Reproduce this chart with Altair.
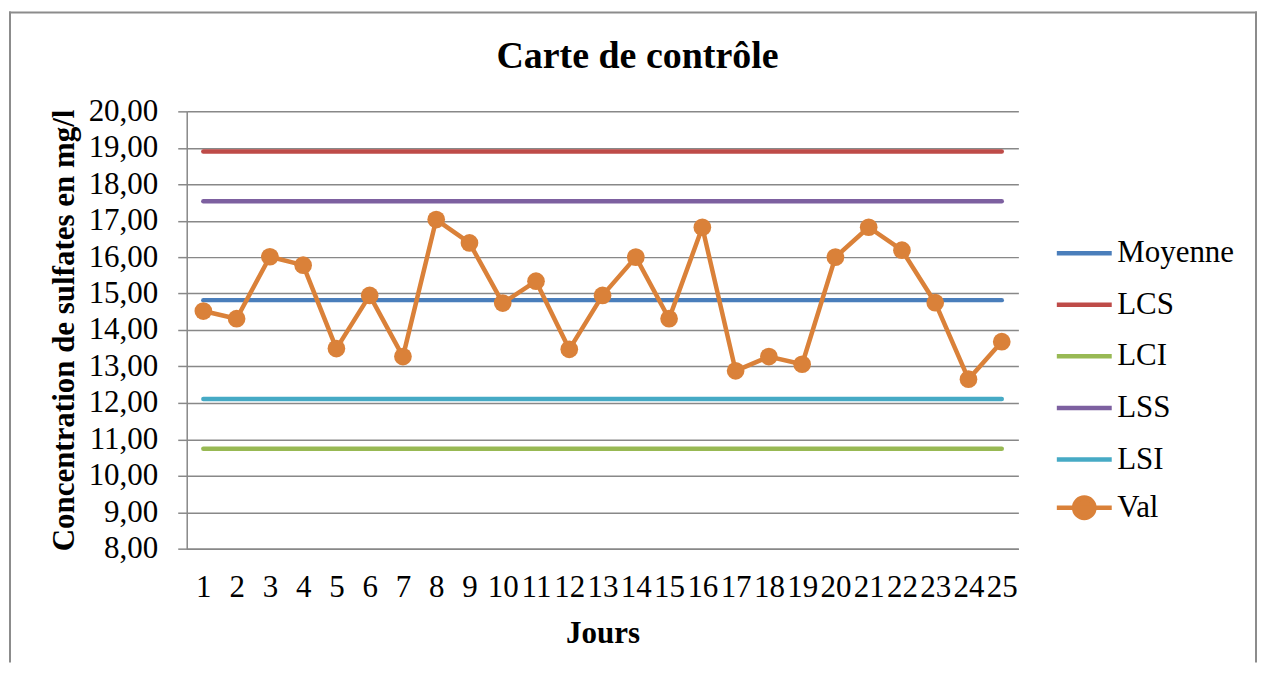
import altair as alt
import pandas as pd

# ---- data ----
chart_title = "Carte de contrôle"
x_title = "Jours"
y_title = "Concentration de sulfates en mg/l"
days = list(range(1, 26))
val = [14.52, 14.31, 16.01, 15.78, 13.49, 14.95, 13.27, 17.03, 16.39, 14.74,
       15.34, 13.47, 14.95, 16.00, 14.31, 16.82, 12.88, 13.27, 13.06, 16.00,
       16.82, 16.19, 14.75, 12.65, 13.68]
control_names = ["Moyenne", "LCS", "LCI", "LSS", "LSI"]
control_levels = [14.82, 18.90, 10.74, 17.53, 12.11]
control_colors = ["#4a7ebb", "#be4b48", "#98b954", "#7d60a0", "#46aac5"]
val_name = "Val"
val_color = "#da8139"
y_ticks = [8, 9, 10, 11, 12, 13, 14, 15, 16, 17, 18, 19, 20]

FONT = "Liberation Serif"
GRAY = "#888888"

rows = []
for name, level in zip(control_names, control_levels):
    for d in days:
        rows.append({"serie": name, "jour": d, "valeur": level})
ctrl_df = pd.DataFrame(rows)
val_df = pd.DataFrame({"serie": val_name, "jour": days, "valeur": val})

x_enc = alt.X(
    "jour:O",
    scale=alt.Scale(type="point", padding=0.5),
    axis=alt.Axis(
        title=x_title, labelAngle=0, labelFont=FONT, labelFontSize=31,
        labelColor="black", labelOverlap=False, ticks=False, tickSize=0,
        labelPadding=24, titleFont=FONT, titleFontSize=31, titleFontWeight="bold",
        titleColor="black", titlePadding=16, domainColor=GRAY, domainWidth=1.5,
        grid=False,
    ),
)
y_enc = alt.Y(
    "valeur:Q",
    scale=alt.Scale(domain=[8, 20], nice=False, zero=False),
    axis=alt.Axis(
        title=y_title, values=y_ticks,
        labelExpr="replace(format(datum.value, '.2f'), '.', ',')",
        labelFont=FONT, labelFontSize=31, labelColor="black", labelPadding=20,
        tickSize=9, tickColor=GRAY, tickWidth=1.5,
        domainColor=GRAY, domainWidth=1.5,
        grid=True, gridColor=GRAY, gridWidth=1.5,
        titleFont=FONT, titleFontSize=31, titleFontWeight="bold",
        titleColor="black", titlePadding=8,
    ),
)

legend_common = dict(
    title=None, orient="none", labelFont=FONT, labelFontSize=31,
    labelColor="black", rowPadding=6.7, labelOffset=3, padding=0, labelLimit=0,
    symbolSize=3025, symbolStrokeWidth=4.5,
)

ctrl_lines = alt.Chart(ctrl_df).mark_line(
    strokeWidth=4.5, strokeCap="round", strokeJoin="round"
).encode(
    x=x_enc, y=y_enc,
    color=alt.Color(
        "serie:N",
        scale=alt.Scale(domain=control_names, range=control_colors),
        legend=alt.Legend(legendX=869, legendY=112, symbolType="stroke", **legend_common),
    ),
)

val_line = alt.Chart(val_df).mark_line(
    strokeWidth=4.5, strokeCap="round", strokeJoin="round", color=val_color
).encode(x=x_enc, y=y_enc)

val_symbol = "M-1,0L1,0M0.37,0A0.37,0.37,0,1,1,-0.37,0A0.37,0.37,0,1,1,0.37,0Z"
val_points = alt.Chart(val_df).mark_circle(size=314, opacity=1).encode(
    x=x_enc, y=y_enc,
    color=alt.Color(
        "serie:N",
        scale=alt.Scale(domain=[val_name], range=[val_color]),
        legend=alt.Legend(legendX=869, legendY=367, symbolType=val_symbol,
                          symbolFillColor=val_color, symbolStrokeColor=val_color,
                          symbolOpacity=1, **legend_common),
    ),
)

title_layer = alt.Chart(pd.DataFrame({"t": [chart_title]})).mark_text(
    font=FONT, fontSize=38, fontWeight="bold", align="center",
    baseline="alphabetic", color="black"
).encode(text="t:N", x=alt.value(451.5), y=alt.value(-43))

frame_df = pd.DataFrame({"b": [0]})
frame_style = dict(color="#8c8c8c", strokeWidth=2)
frame_left = alt.Chart(frame_df).mark_rule(**frame_style).encode(
    x=alt.value(-177), y=alt.value(-100), y2=alt.value(552))
frame_right = alt.Chart(frame_df).mark_rule(**frame_style).encode(
    x=alt.value(1071), y=alt.value(-100), y2=alt.value(552))
frame_top = alt.Chart(frame_df).mark_rule(**frame_style).encode(
    x=alt.value(-178), x2=alt.value(1072), y=alt.value(-99))

chart = alt.layer(
    frame_left, frame_right, frame_top, ctrl_lines, val_line, val_points, title_layer
).resolve_scale(color="independent").properties(
    width=833, height=438,
    padding={"left": 0, "top": 2, "right": 0, "bottom": 0},
    background="white",
).configure_view(strokeWidth=0)

chart.save("out.html", embed_options={"renderer": "svg", "actions": False})
